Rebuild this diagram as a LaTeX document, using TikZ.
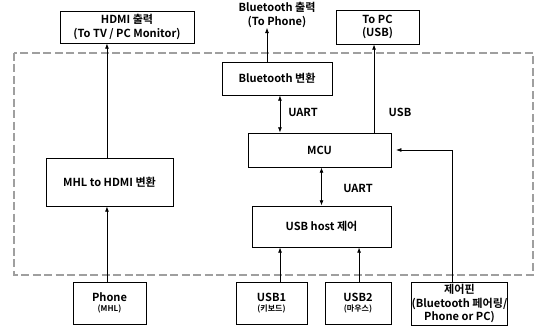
\documentclass[tikz,border=0pt]{standalone}
\usepackage{fontspec}
\setmainfont{Noto Sans CJK KR}[BoldFont={Noto Sans CJK KR Bold}]
\usetikzlibrary{arrows.meta}

\tikzset{
  blk/.style={draw, line width=0.6pt, align=center, inner sep=0pt, font=\bfseries\fontsize{8.3}{10}\selectfont},
  arr/.style={-{Latex[length=4pt,width=3pt]}, line width=0.6pt},
  darr/.style={{Latex[length=4pt,width=3pt]}-{Latex[length=4pt,width=3pt]}, line width=0.6pt},
  lbl/.style={font=\bfseries\fontsize{8.3}{10}\selectfont, inner sep=0pt}
}
\newcommand\subtxt[1]{{\fontsize{6}{7}\selectfont #1}}

\begin{document}
\begin{tikzpicture}[x=0.75pt,y=0.75pt,yscale=-1]
\useasboundingbox (0,0) rectangle (535,327);

% board
\draw [gray!75, line width=0.9pt, dash pattern=on 6pt off 2.6pt] (14,53) rectangle (533,275);

% outputs
\node [blk, minimum width=134*0.75pt, minimum height=32*0.75pt] (hdmi) at (127,27) {HDMI 출력\\(To TV / PC Monitor)};
\node [lbl, align=center] (btout) at (277,15) {Bluetooth 출력\\(To Phone)};
\node [blk, minimum width=83*0.75pt, minimum height=34*0.75pt] (topc) at (377.5,27) {To PC\\(USB)};

% inside
\node [blk, minimum width=110*0.75pt, minimum height=33*0.75pt] (bt) at (277,78.5) {Bluetooth 변환};
\node [blk, minimum width=143*0.75pt, minimum height=34*0.75pt] (mcu) at (319.5,150) {MCU};
\node [blk, minimum width=139*0.75pt, minimum height=41*0.75pt] (host) at (321.5,226.5) {USB host 제어};
\node [blk, minimum width=127*0.75pt, minimum height=48*0.75pt] (mhl) at (109.5,182) {MHL to HDMI 변환};

% inputs
\node [blk, minimum width=73*0.75pt, minimum height=42*0.75pt] (phone) at (109.5,303) {Phone\\[-2pt]\subtxt{(MHL)}};
\node [blk, minimum width=71*0.75pt, minimum height=42*0.75pt] (usbone) at (271.5,303) {USB1\\[-2pt]\subtxt{(키보드)}};
\node [blk, minimum width=66*0.75pt, minimum height=42*0.75pt] (usbtwo) at (358,303) {USB2\\[-2pt]\subtxt{(마우스)}};
\node [blk, minimum width=91*0.75pt, minimum height=43*0.75pt] (ctrl) at (459.5,303.5) {제어핀\\(Bluetooth 페어링/\\Phone or PC)};

% connections
\draw [arr] ([xshift=-1.9pt]phone.north) -- ([xshift=-1.9pt]mhl.south);
\draw [arr] ([xshift=-1.9pt]mhl.north) -- ([xshift=-1.9pt]mhl.north |- hdmi.south);
\draw [arr] ([xshift=-7.5pt]bt.north) -- ([xshift=-7.5pt]btout.south);
\draw [darr] ([xshift=2.2pt]bt.south) -- ([xshift=2.2pt]bt.south |- mcu.north);
\draw [arr] ([xshift=-2.6pt]topc.south |- mcu.north) -- ([xshift=-2.6pt]topc.south);
\draw [darr] ([xshift=1.5pt]mcu.south) -- ([xshift=1.5pt]mcu.south |- host.north);
\draw [arr] ([xshift=6.4pt]usbone.north) -- ([xshift=6.4pt]usbone.north |- host.south);
\draw [arr] ([xshift=0.8pt]usbtwo.north) -- ([xshift=0.8pt]usbtwo.north |- host.south);
\draw [arr] ([xshift=-5.6pt]ctrl.north) |- ([xshift=3.5pt]mcu.east);

% labels
\node [lbl] (uartone) at (303,112) {UART};
\node [lbl] (usblbl) at (400,112) {USB};
\node [lbl] (uarttwo) at (358,188) {UART};
\end{tikzpicture}
\end{document}
